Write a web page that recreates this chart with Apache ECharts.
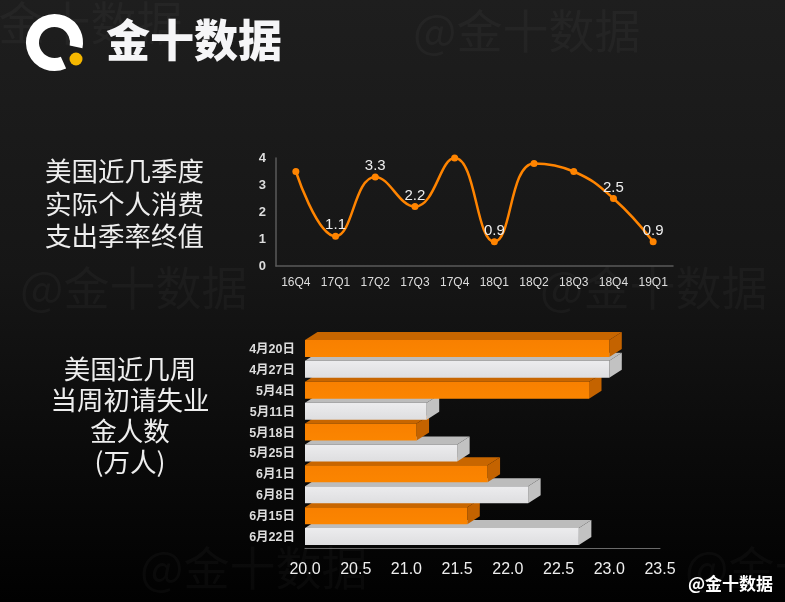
<!DOCTYPE html>
<html>
<head>
<meta charset="utf-8">
<title>美国消费与初请</title>
<script src="https://cdn.jsdelivr.net/npm/echarts@6/dist/echarts.min.js"></script>
<style>
    html, body { margin: 0; padding: 0; background: #000; }
    #main { width: 785px; height: 602px; }
</style>
</head>
<body>
<div id="main"></div>
<script>
// 实际个人消费支出季率终值
var quarters = ['16Q4', '17Q1', '17Q2', '17Q3', '17Q4', '18Q1', '18Q2', '18Q3', '18Q4', '19Q1'];
var pceValues = [3.5, 1.1, 3.3, 2.2, 4.0, 0.9, 3.8, 3.5, 2.5, 0.9];
var pceLabelled = [1, 2, 3, 5, 8, 9];

// 当周初请失业金人数(万人)
var weeks = ['4月20日', '4月27日', '5月4日', '5月11日', '5月18日', '5月25日', '6月1日', '6月8日', '6月15日', '6月22日'];
var claims = [23.0, 23.0, 22.8, 21.2, 21.1, 21.5, 21.8, 22.2, 21.6, 22.7];
var claimsTicks = [20.0, 23.5, 0.5];

var chart = echarts.init(document.getElementById('main'));

var mark = 'rgba(255,255,255,0.032)';
var cjk = '"Noto Sans CJK SC", sans-serif';
var latin = '"Liberation Sans", "Noto Sans CJK SC", sans-serif';

var faces = [
    { front: ['#f88000', '#fb8500'], top: '#c86600', side: '#c46300' },
    { front: ['#ececee', '#dedee0'], top: '#bcbcbc', side: '#c2c2c2' }
];

function renderBar(params, api) {
    var idx = api.value(1);
    var start = api.coord([claimsTicks[0], idx]);
    var end = api.coord([api.value(0), idx]);
    var h = 17, dx = 12.5, dy = -8;
    var x0 = start[0], x1 = end[0], y = start[1] - 9.5;
    var f = faces[idx % 2];
    var z = 100 - idx * 3;
    return {
        type: 'group',
        children: [
            {
                type: 'polygon', z2: z,
                shape: { points: [[x0, y], [x0 + dx, y + dy], [x1 + dx, y + dy], [x1, y]] },
                style: { fill: f.top }
            },
            {
                type: 'polygon', z2: z,
                shape: { points: [[x1, y], [x1 + dx, y + dy], [x1 + dx, y + dy + h], [x1, y + h]] },
                style: { fill: f.side }
            },
            {
                type: 'rect', z2: z + 1,
                shape: { x: x0, y: y, width: x1 - x0, height: h },
                style: {
                    fill: new echarts.graphic.LinearGradient(0, 0, 0, 1, [
                        { offset: 0, color: f.front[0] },
                        { offset: 1, color: f.front[1] }
                    ])
                }
            }
        ]
    };
}

var option = {
    backgroundColor: new echarts.graphic.LinearGradient(0, 0, 0, 1, [
        { offset: 0, color: '#1e1e1e' },
        { offset: 0.45, color: '#161616' },
        { offset: 1, color: '#010101' }
    ]),
    animation: false,
    graphic: [
        // 水印
        { type: 'text', left: -45, top: 0, z: 0, style: { text: '@金十数据', fill: mark, font: '46px ' + cjk } },
        { type: 'text', left: 413, top: 8, z: 0, style: { text: '@金十数据', fill: mark, font: '46px ' + cjk } },
        { type: 'text', left: 20, top: 265, z: 0, style: { text: '@金十数据', fill: mark, font: '46px ' + cjk } },
        { type: 'text', left: 540, top: 265, z: 0, style: { text: '@金十数据', fill: mark, font: '46px ' + cjk } },
        { type: 'text', left: 140, top: 545, z: 0, style: { text: '@金十数据', fill: mark, font: '46px ' + cjk } },
        { type: 'text', left: 685, top: 545, z: 0, style: { text: '@金十数据', fill: mark, font: '46px ' + cjk } },
        // logo
        {
            type: 'arc', z: 10,
            shape: { cx: 54.5, cy: 42.5, r: 22, startAngle: 1.15, endAngle: 0.2 + Math.PI * 2 },
            style: { stroke: '#fff', lineWidth: 13, fill: null }
        },
        { type: 'circle', z: 10, shape: { cx: 76, cy: 59, r: 6.5 }, style: { fill: '#f5b700' } },
        {
            type: 'text', left: 106, top: 18, z: 10,
            style: { text: '金十数据', fill: '#f5f5f7', font: '900 44px ' + cjk }
        },
        // 左侧标题
        {
            type: 'text', left: 45, top: 155, z: 10,
            style: {
                text: '美国近几季度\n实际个人消费\n支出季率终值',
                fill: '#eeeeee', font: '26.5px ' + cjk, lineHeight: 32.5
            }
        },
        {
            type: 'text', x: 130, y: 353, z: 10,
            style: {
                text: '美国近几周\n当周初请失业\n金人数\n(万人)',
                fill: '#eeeeee', font: '26.5px ' + cjk, lineHeight: 31, align: 'center', verticalAlign: 'top'
            }
        },
        {
            type: 'text', right: 12, top: 575, z: 10,
            style: { text: '@金十数据', fill: '#ffffff', font: 'bold 17px ' + cjk }
        }
    ],
    grid: [
        { left: 276, top: 158, width: 397, height: 108 },
        { left: 305, top: 339, width: 355, height: 209 }
    ],
    xAxis: [
        {
            gridIndex: 0,
            type: 'category',
            data: quarters,
            axisLine: { lineStyle: { color: '#5a5a5a', width: 1.5 } },
            axisTick: { show: false },
            axisLabel: { interval: 0, color: '#dddddd', fontSize: 12, fontFamily: latin, margin: 11 }
        },
        {
            gridIndex: 1,
            type: 'value',
            min: claimsTicks[0],
            max: claimsTicks[1],
            interval: claimsTicks[2],
            splitLine: { show: false },
            axisLine: { show: true, lineStyle: { color: '#6a6a6a', width: 1 } },
            axisTick: { show: false },
            axisLabel: {
                color: '#eeeeee', fontSize: 16, fontFamily: latin, margin: 14,
                formatter: function (v) { return v.toFixed(1); }
            }
        }
    ],
    yAxis: [
        {
            gridIndex: 0,
            type: 'value',
            min: 0,
            max: 4,
            interval: 1,
            splitLine: { show: false },
            axisLine: { show: true, lineStyle: { color: '#5a5a5a', width: 1.5 } },
            axisTick: { show: false },
            axisLabel: { color: '#dddddd', fontSize: 13, fontWeight: 'bold', fontFamily: latin, margin: 10 }
        },
        {
            gridIndex: 1,
            type: 'category',
            data: weeks,
            inverse: true,
            axisLine: { show: false },
            axisTick: { show: false },
            axisLabel: { color: '#dddddd', fontSize: 12.5, fontWeight: 'bold', fontFamily: latin, margin: 10 }
        }
    ],
    series: [
        {
            name: '季率终值',
            type: 'line',
            xAxisIndex: 0,
            yAxisIndex: 0,
            smooth: 0.45,
            symbol: 'circle',
            symbolSize: 7,
            itemStyle: { color: '#ff8400' },
            lineStyle: { color: '#ff8400', width: 2.5 },
            label: {
                show: true,
                position: 'top',
                distance: 0,
                color: '#eeeeee',
                fontSize: 15,
                fontFamily: latin,
                formatter: function (p) {
                    return pceLabelled.indexOf(p.dataIndex) >= 0 ? p.value.toFixed(1) : '';
                }
            },
            data: pceValues
        },
        {
            name: '初请',
            type: 'custom',
            xAxisIndex: 1,
            yAxisIndex: 1,
            renderItem: renderBar,
            encode: { x: 0, y: 1 },
            data: claims.map(function (v, i) { return [v, i]; })
        }
    ]
};

chart.setOption(option);
window.addEventListener('resize', function () {
    chart.resize();
});
</script>
</body>
</html>
